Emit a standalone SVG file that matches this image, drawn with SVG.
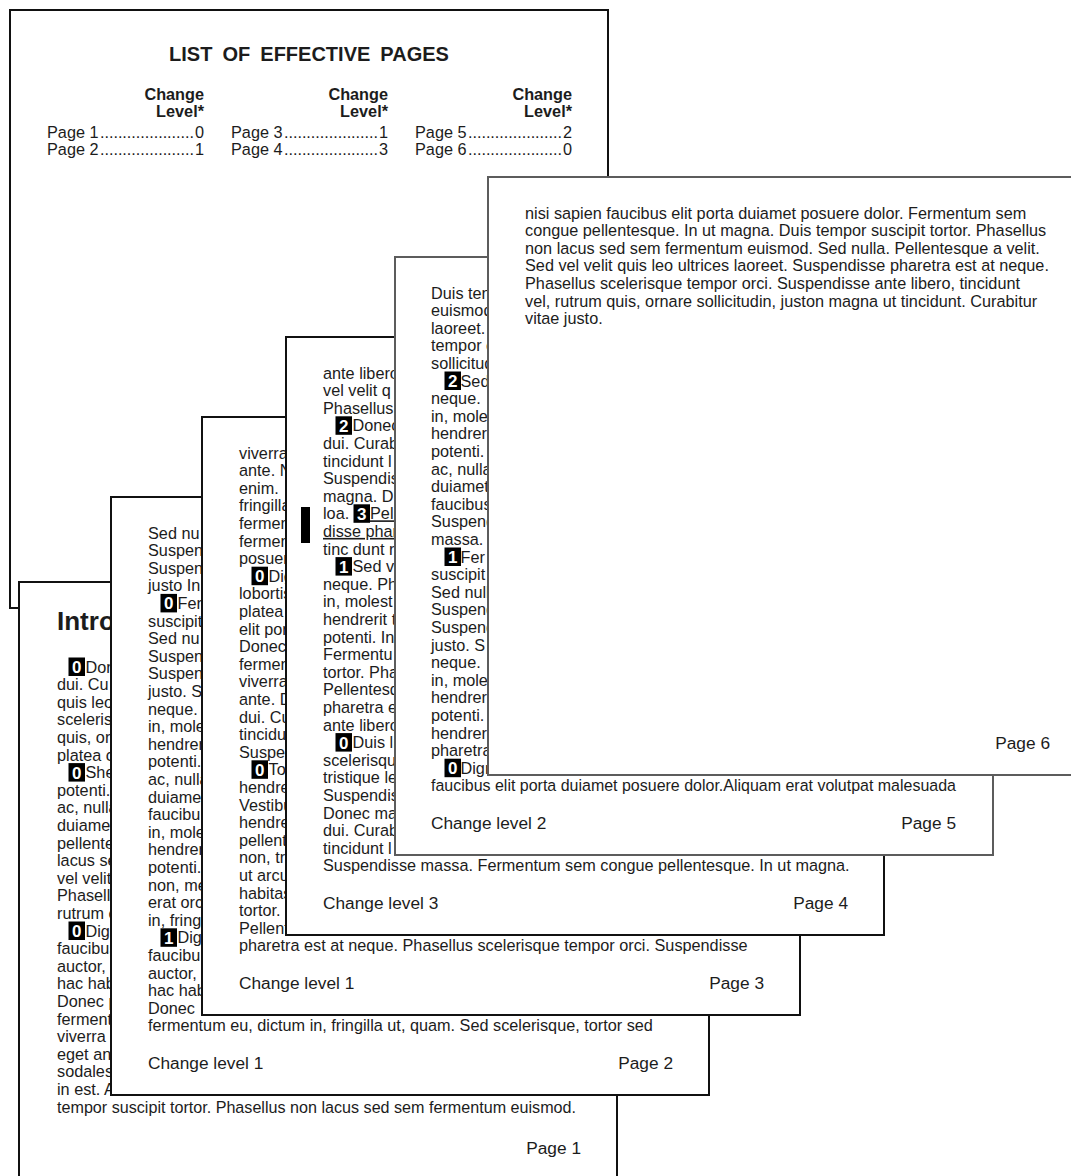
<svg xmlns="http://www.w3.org/2000/svg" width="1071" height="1176" viewBox="0 0 1071 1176">
<style>
.pg{fill:#fff;stroke:#111;stroke-width:2}
.pg.g{stroke:#5c5c5c}
text{font-family:"Liberation Sans",Arial,Helvetica,sans-serif;font-size:16.25px;fill:#1c1c1c}
.ft{font-size:17.3px}
.b{font-weight:bold}
.h{font-weight:bold;font-size:26px}
.ttl{font-weight:bold;font-size:20px;word-spacing:4.5px}
.end{text-anchor:end}
.cb{fill:#000}
.cd{fill:#fff;font-weight:bold;font-size:17px;text-anchor:middle}
.ul{text-decoration:underline}
</style>
<rect width="1071" height="1176" fill="#fff"/>

<g id="loep" transform="translate(10,10)">
<rect class="pg" x="0" y="0" width="598" height="598"/>
<text class="ttl" x="299" y="51" text-anchor="middle">LIST OF EFFECTIVE PAGES</text>
<text class="b end" x="194" y="90">Change</text>
<text class="b end" x="194" y="106.5">Level*</text>
<text class="b end" x="378" y="90">Change</text>
<text class="b end" x="378" y="106.5">Level*</text>
<text class="b end" x="562" y="90">Change</text>
<text class="b end" x="562" y="106.5">Level*</text>
<text x="37" y="127.5">Page 1</text><text x="90" y="127.5" textLength="94" lengthAdjust="spacing">.....................</text><text class="end" x="194" y="127.5">0</text>
<text x="37" y="145">Page 2</text><text x="90" y="145" textLength="94" lengthAdjust="spacing">.....................</text><text class="end" x="194" y="145">1</text>
<text x="221" y="127.5">Page 3</text><text x="274" y="127.5" textLength="94" lengthAdjust="spacing">.....................</text><text class="end" x="378" y="127.5">1</text>
<text x="221" y="145">Page 4</text><text x="274" y="145" textLength="94" lengthAdjust="spacing">.....................</text><text class="end" x="378" y="145">3</text>
<text x="405" y="127.5">Page 5</text><text x="458" y="127.5" textLength="94" lengthAdjust="spacing">.....................</text><text class="end" x="562" y="127.5">2</text>
<text x="405" y="145">Page 6</text><text x="458" y="145" textLength="94" lengthAdjust="spacing">.....................</text><text class="end" x="562" y="145">0</text>
</g>

<g id="page-1" transform="translate(19,582)">
<rect class="pg" x="0" y="0" width="598" height="598"/>
<text class="h" x="38" y="48">Intro</text>
<rect class="cb" x="49.5" y="75.5" width="16.5" height="18.5"/><text class="cd" x="57.75" y="91">0</text>
<rect class="cb" x="49.5" y="181.1" width="16.5" height="18.5"/><text class="cd" x="57.75" y="196.6">0</text>
<rect class="cb" x="49.5" y="339.5" width="16.5" height="18.5"/><text class="cd" x="57.75" y="355">0</text>
<text>
<tspan x="66.5" y="90.5">Don</tspan>
<tspan x="38" dy="17.6">dui. Cu</tspan>
<tspan x="38" dy="17.6">quis leo</tspan>
<tspan x="38" dy="17.6">sceleris</tspan>
<tspan x="38" dy="17.6">quis, or</tspan>
<tspan x="38" dy="17.6">platea c</tspan>
<tspan x="66.5" dy="17.6">She</tspan>
<tspan x="38" dy="17.6">potenti.</tspan>
<tspan x="38" dy="17.6">ac, nulla</tspan>
<tspan x="38" dy="17.6">duiamet</tspan>
<tspan x="38" dy="17.6">pellente</tspan>
<tspan x="38" dy="17.6">lacus se</tspan>
<tspan x="38" dy="17.6">vel velit</tspan>
<tspan x="38" dy="17.6">Phasellu</tspan>
<tspan x="38" dy="17.6">rutrum c</tspan>
<tspan x="66.5" dy="17.6">Dig</tspan>
<tspan x="38" dy="17.6">faucibus</tspan>
<tspan x="38" dy="17.6">auctor, c</tspan>
<tspan x="38" dy="17.6">hac hab</tspan>
<tspan x="38" dy="17.6">Donec p</tspan>
<tspan x="38" dy="17.6">ferment</tspan>
<tspan x="38" dy="17.6">viverra c</tspan>
<tspan x="38" dy="17.6">eget an</tspan>
<tspan x="38" dy="17.6">sodales</tspan>
<tspan x="38" dy="17.6">in est. A</tspan>
</text>
<text x="38" y="530.5" textLength="519" lengthAdjust="spacingAndGlyphs">tempor suscipit tortor. Phasellus non lacus sed sem fermentum euismod.</text>
<text class="ft end" x="562" y="571.5">Page 1</text>
</g>

<g id="page-2" transform="translate(111,497)">
<rect class="pg" x="0" y="0" width="598" height="598"/>
<rect class="cb" x="49.5" y="96.9" width="16.5" height="18.5"/><text class="cd" x="57.75" y="112.4">0</text>
<rect class="cb" x="49.5" y="431.3" width="16.5" height="18.5"/><text class="cd" x="57.75" y="446.8">1</text>
<text>
<tspan x="37" y="41.5">Sed nu</tspan>
<tspan x="37" dy="17.6">Suspen</tspan>
<tspan x="37" dy="17.6">Suspen</tspan>
<tspan x="37" dy="17.6">justo In</tspan>
<tspan x="66.5" dy="17.6">Fer</tspan>
<tspan x="37" dy="17.6">suscipit</tspan>
<tspan x="37" dy="17.6">Sed nu</tspan>
<tspan x="37" dy="17.6">Suspen</tspan>
<tspan x="37" dy="17.6">Suspen</tspan>
<tspan x="37" dy="17.6">justo. S</tspan>
<tspan x="37" dy="17.6">neque.</tspan>
<tspan x="37" dy="17.6">in, mole</tspan>
<tspan x="37" dy="17.6">hendrer</tspan>
<tspan x="37" dy="17.6">potenti.</tspan>
<tspan x="37" dy="17.6">ac, nulla</tspan>
<tspan x="37" dy="17.6">duiame</tspan>
<tspan x="37" dy="17.6">faucibu</tspan>
<tspan x="37" dy="17.6">in, mole</tspan>
<tspan x="37" dy="17.6">hendrer</tspan>
<tspan x="37" dy="17.6">potenti.</tspan>
<tspan x="37" dy="17.6">non, me</tspan>
<tspan x="37" dy="17.6">erat orc</tspan>
<tspan x="37" dy="17.6">in, fring</tspan>
<tspan x="66.5" dy="17.6">Dig</tspan>
<tspan x="37" dy="17.6">faucibu</tspan>
<tspan x="37" dy="17.6">auctor,</tspan>
<tspan x="37" dy="17.6">hac hab</tspan>
<tspan x="37" dy="17.6">Donec</tspan>
<tspan x="37" dy="17.6">fermentum eu, dictum in, fringilla ut, quam. Sed scelerisque, tortor sed</tspan>
</text>
<text class="ft" x="37" y="571.5">Change level 1</text>
<text class="ft end" x="562" y="571.5">Page 2</text>
</g>

<g id="page-3" transform="translate(202,417)">
<rect class="pg" x="0" y="0" width="598" height="598"/>
<rect class="cb" x="49.5" y="149.7" width="16.5" height="18.5"/><text class="cd" x="57.75" y="165.2">0</text>
<rect class="cb" x="49.5" y="343.3" width="16.5" height="18.5"/><text class="cd" x="57.75" y="358.8">0</text>
<text>
<tspan x="37" y="41.5">viverra</tspan>
<tspan x="37" dy="17.6">ante. N</tspan>
<tspan x="37" dy="17.6">enim.</tspan>
<tspan x="37" dy="17.6">fringilla</tspan>
<tspan x="37" dy="17.6">fermen</tspan>
<tspan x="37" dy="17.6">fermen</tspan>
<tspan x="37" dy="17.6">posuer</tspan>
<tspan x="66.5" dy="17.6">Dig</tspan>
<tspan x="37" dy="17.6">lobortis</tspan>
<tspan x="37" dy="17.6">platea</tspan>
<tspan x="37" dy="17.6">elit por</tspan>
<tspan x="37" dy="17.6">Donec</tspan>
<tspan x="37" dy="17.6">fermen</tspan>
<tspan x="37" dy="17.6">viverra</tspan>
<tspan x="37" dy="17.6">ante. D</tspan>
<tspan x="37" dy="17.6">dui. Cu</tspan>
<tspan x="37" dy="17.6">tincidu</tspan>
<tspan x="37" dy="17.6">Suspen</tspan>
<tspan x="66.5" dy="17.6">To</tspan>
<tspan x="37" dy="17.6">hendre</tspan>
<tspan x="37" dy="17.6">Vestibu</tspan>
<tspan x="37" dy="17.6">hendre</tspan>
<tspan x="37" dy="17.6">pellent</tspan>
<tspan x="37" dy="17.6">non, tr</tspan>
<tspan x="37" dy="17.6">ut arcu</tspan>
<tspan x="37" dy="17.6">habitas</tspan>
<tspan x="37" dy="17.6">tortor.</tspan>
<tspan x="37" dy="17.6">Pellent</tspan>
<tspan x="37" dy="17.6">pharetra est at neque. Phasellus scelerisque tempor orci. Suspendisse</tspan>
</text>
<text class="ft" x="37" y="571.5">Change level 1</text>
<text class="ft end" x="562" y="571.5">Page 3</text>
</g>

<g id="page-4" transform="translate(286,337)">
<rect class="pg" x="0" y="0" width="598" height="598"/>
<rect x="15" y="170" width="9" height="36" fill="#000"/>
<rect class="cb" x="49.5" y="79.3" width="16.5" height="18.5"/><text class="cd" x="57.75" y="94.8">2</text>
<rect class="cb" x="67.5" y="167.3" width="16.5" height="18.5"/><text class="cd" x="75.75" y="182.8">3</text>
<rect class="cb" x="49.5" y="220.1" width="16.5" height="18.5"/><text class="cd" x="57.75" y="235.6">1</text>
<rect class="cb" x="49.5" y="396.1" width="16.5" height="18.5"/><text class="cd" x="57.75" y="411.6">0</text>
<text>
<tspan x="37" y="41.5">ante libero</tspan>
<tspan x="37" dy="17.6">vel velit q</tspan>
<tspan x="37" dy="17.6">Phasellus</tspan>
<tspan x="66.5" dy="17.6">Donec</tspan>
<tspan x="37" dy="17.6">dui. Curab</tspan>
<tspan x="37" dy="17.6">tincidunt l</tspan>
<tspan x="37" dy="17.6">Suspendis</tspan>
<tspan x="37" dy="17.6">magna. D</tspan>
<tspan x="37" dy="17.6">loa. </tspan><tspan x="84" class="ul">Pell</tspan>
<tspan x="37" dy="17.6" class="ul">disse phar</tspan>
<tspan x="37" dy="17.6">tinc dunt r</tspan>
<tspan x="66.5" dy="17.6">Sed v</tspan>
<tspan x="37" dy="17.6">neque. Ph</tspan>
<tspan x="37" dy="17.6">in, molest</tspan>
<tspan x="37" dy="17.6">hendrerit t</tspan>
<tspan x="37" dy="17.6">potenti. In</tspan>
<tspan x="37" dy="17.6">Fermentu</tspan>
<tspan x="37" dy="17.6">tortor. Pha</tspan>
<tspan x="37" dy="17.6">Pellentesq</tspan>
<tspan x="37" dy="17.6">pharetra e</tspan>
<tspan x="37" dy="17.6">ante libero</tspan>
<tspan x="66.5" dy="17.6">Duis li</tspan>
<tspan x="37" dy="17.6">scelerisqu</tspan>
<tspan x="37" dy="17.6">tristique le</tspan>
<tspan x="37" dy="17.6">Suspendis</tspan>
<tspan x="37" dy="17.6">Donec ma</tspan>
<tspan x="37" dy="17.6">dui. Curab</tspan>
<tspan x="37" dy="17.6">tincidunt l</tspan>
<tspan x="37" dy="17.6">Suspendisse massa. Fermentum sem congue pellentesque. In ut magna.</tspan>
</text>
<text class="ft" x="37" y="571.5">Change level 3</text>
<text class="ft end" x="562" y="571.5">Page 4</text>
</g>

<g id="page-5" transform="translate(395,257)">
<rect class="pg g" x="0" y="0" width="598" height="598"/>
<rect class="cb" x="49.5" y="114.5" width="16.5" height="18.5"/><text class="cd" x="57.75" y="130">2</text>
<rect class="cb" x="49.5" y="290.5" width="16.5" height="18.5"/><text class="cd" x="57.75" y="306">1</text>
<rect class="cb" x="49.5" y="501.7" width="16.5" height="18.5"/><text class="cd" x="57.75" y="517.2">0</text>
<text>
<tspan x="36" y="41.5">Duis ten</tspan>
<tspan x="36" dy="17.6">euismod</tspan>
<tspan x="36" dy="17.6">laoreet.</tspan>
<tspan x="36" dy="17.6">tempor c</tspan>
<tspan x="36" dy="17.6">sollicitud</tspan>
<tspan x="65.5" dy="17.6">Sed</tspan>
<tspan x="36" dy="17.6">neque.</tspan>
<tspan x="36" dy="17.6">in, mole</tspan>
<tspan x="36" dy="17.6">hendrer</tspan>
<tspan x="36" dy="17.6">potenti.</tspan>
<tspan x="36" dy="17.6">ac, nulla</tspan>
<tspan x="36" dy="17.6">duiamet</tspan>
<tspan x="36" dy="17.6">faucibus</tspan>
<tspan x="36" dy="17.6">Suspend</tspan>
<tspan x="36" dy="17.6">massa.</tspan>
<tspan x="65.5" dy="17.6">Fer</tspan>
<tspan x="36" dy="17.6">suscipit</tspan>
<tspan x="36" dy="17.6">Sed null</tspan>
<tspan x="36" dy="17.6">Suspend</tspan>
<tspan x="36" dy="17.6">Suspend</tspan>
<tspan x="36" dy="17.6">justo. S</tspan>
<tspan x="36" dy="17.6">neque.</tspan>
<tspan x="36" dy="17.6">in, mole</tspan>
<tspan x="36" dy="17.6">hendrer</tspan>
<tspan x="36" dy="17.6">potenti.</tspan>
<tspan x="36" dy="17.6">hendrer</tspan>
<tspan x="36" dy="17.6">pharetra</tspan>
<tspan x="65.5" dy="17.6">Dign</tspan>
</text>
<text x="36" y="534.3" textLength="525" lengthAdjust="spacingAndGlyphs">faucibus elit porta duiamet posuere dolor.Aliquam erat volutpat malesuada</text>
<text class="ft" x="36" y="571.5">Change level 2</text>
<text class="ft end" x="561" y="571.5">Page 5</text>
</g>

<g id="page-6" transform="translate(488,177)">
<rect class="pg g" x="0" y="0" width="598" height="598"/>
<text>
<tspan x="37" y="41.5">nisi sapien faucibus elit porta duiamet posuere dolor. Fermentum sem</tspan>
<tspan x="37" dy="17.6">congue pellentesque. In ut magna. Duis tempor suscipit tortor. Phasellus</tspan>
<tspan x="37" dy="17.6">non lacus sed sem fermentum euismod. Sed nulla. Pellentesque a velit.</tspan>
<tspan x="37" dy="17.6">Sed vel velit quis leo ultrices laoreet. Suspendisse pharetra est at neque.</tspan>
<tspan x="37" dy="17.6">Phasellus scelerisque tempor orci. Suspendisse ante libero, tincidunt</tspan>
<tspan x="37" dy="17.6">vel, rutrum quis, ornare sollicitudin, juston magna ut tincidunt. Curabitur</tspan>
<tspan x="37" dy="17.6">vitae justo.</tspan>
</text>
<text class="ft end" x="562" y="571.5">Page 6</text>
</g>
</svg>
